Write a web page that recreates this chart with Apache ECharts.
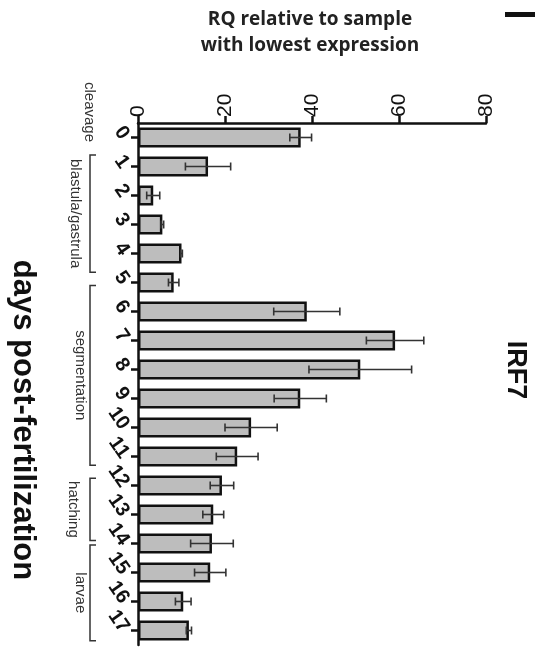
<!DOCTYPE html>
<html><head><meta charset="utf-8">
<script src="https://cdn.jsdelivr.net/npm/echarts@6/dist/echarts.min.js"></script>
<style>html,body{margin:0;padding:0;background:#fff}#c{width:549px;height:650px}</style>
</head><body><div id="c"></div>
<script>
var categories = ['0','1','2','3','4','5','6','7','8','9','10','11','12','13','14','15','16','17'];
var values = [37.4, 16.1, 3.5, 5.6, 10.0, 8.2, 38.8, 59.1, 51.1, 37.3, 26.0, 22.8, 19.3, 17.3, 17.0, 16.6, 10.4, 11.7];
var errors = [2.5, 5.2, 1.5, 0.3, 0.2, 1.2, 7.6, 6.6, 11.8, 6.0, 6.0, 4.8, 2.7, 2.4, 4.9, 3.6, 1.8, 0.6];
var valueTicks = [0, 20, 40, 60, 80];
var stageNames = ['blastula/gastrula', 'segmentation', 'hatching', 'larvae'];
var stageStart = [0.6, 5.1, 11.75, 14.05];
var stageEnd = [4.65, 11.3, 13.9, 17.35];
var stageTextX = [75, 80, 73, 80];

var chart = echarts.init(document.getElementById('c'));
var option = {
  animation: false,
  grid: {left: 138, top: 123, right: 63, bottom: 5, containLabel: false},
  xAxis: {
    type: 'value', position: 'top', min: valueTicks[0], max: valueTicks[valueTicks.length-1], interval: 20,
    splitLine: {show: false},
    axisLine: {show: true, lineStyle: {color: '#111', width: 2.5}},
    axisTick: {show: true, length: 7, lineStyle: {color: '#111', width: 2.5}},
    axisLabel: {rotate: -90, margin: 6, fontSize: 21, fontFamily: 'Liberation Sans, Arial', color: '#111'}
  },
  yAxis: {
    type: 'category', data: categories, inverse: true,
    axisLine: {show: true, lineStyle: {color: '#111', width: 2.5}},
    axisTick: {show: true, alignWithLabel: true, length: 7, lineStyle: {color: '#111', width: 2.5}},
    axisLabel: {interval: 0, rotate: -55, margin: 13, fontSize: 20, fontWeight: 'bold', fontFamily: 'Liberation Sans, Arial', color: '#111'}
  },
  series: [
    {type: 'bar', data: values, barWidth: 20,
     itemStyle: {color: '#bdbdbd', borderColor: '#111', borderWidth: 2.5}},
    {type: 'custom', z: 10,
     data: values.map(function(v, i){ return [i, v - errors[i], v + errors[i]]; }),
     renderItem: function(params, api){
       var idx = api.value(0);
       var lo = api.coord([api.value(1), idx]);
       var hi = api.coord([api.value(2), idx]);
       var h = 4;
       var st = {stroke: '#333', lineWidth: 1.6, fill: null};
       return {type: 'group', children: [
         {type: 'line', shape: {x1: lo[0], y1: lo[1], x2: hi[0], y2: hi[1]}, style: st},
         {type: 'line', shape: {x1: lo[0], y1: lo[1]-h, x2: lo[0], y2: lo[1]+h}, style: st},
         {type: 'line', shape: {x1: hi[0], y1: hi[1]-h, x2: hi[0], y2: hi[1]+h}, style: st}
       ]};
     }
    }
  ]
};
chart.setOption(option);

var y0 = chart.convertToPixel({yAxisIndex: 0}, 0);
var y1 = chart.convertToPixel({yAxisIndex: 0}, 1);
var band = y1 - y0;
function py(v){ return y0 + v * band; }

var g = [];
g.push({type: 'text', x: 310, y: 20, style: {text: 'RQ relative to sample', font: 'bold 19px "Open Sans", "Liberation Sans", Arial', fill: '#222', align: 'center', verticalAlign: 'middle'}});
g.push({type: 'text', x: 310, y: 46, style: {text: 'with lowest expression', font: 'bold 19px "Open Sans", "Liberation Sans", Arial', fill: '#222', align: 'center', verticalAlign: 'middle'}});
g.push({type: 'rect', shape: {x: 505, y: 12, width: 30, height: 5}, style: {fill: '#111'}});
g.push({type: 'text', x: 515, y: 370, rotation: -Math.PI/2, style: {text: 'IRF7', font: 'bold 27px "Liberation Sans", Arial', fill: '#111', align: 'center', verticalAlign: 'middle'}});
g.push({type: 'text', x: 23, y: 420, rotation: -Math.PI/2, style: {text: 'days post-fertilization', font: 'bold 31px "Liberation Sans", Arial', fill: '#111', align: 'center', verticalAlign: 'middle'}});
g.push({type: 'text', x: 89, y: 112, rotation: -Math.PI/2, style: {text: 'cleavage', font: '15px "Liberation Sans", Arial', fill: '#333', align: 'center', verticalAlign: 'middle'}});
for (var i = 0; i < stageNames.length; i++) {
  var a = py(stageStart[i]), b = py(stageEnd[i]);
  g.push({type: 'polyline', shape: {points: [[96, a], [90, a], [90, b], [96, b]]}, style: {stroke: '#333', lineWidth: 1.5, fill: null}});
  g.push({type: 'text', x: stageTextX[i], y: (a + b) / 2, rotation: -Math.PI/2, style: {text: stageNames[i], font: '15px "Liberation Sans", Arial', fill: '#333', align: 'center', verticalAlign: 'middle'}});
}
chart.setOption({graphic: g});
</script></body></html>
